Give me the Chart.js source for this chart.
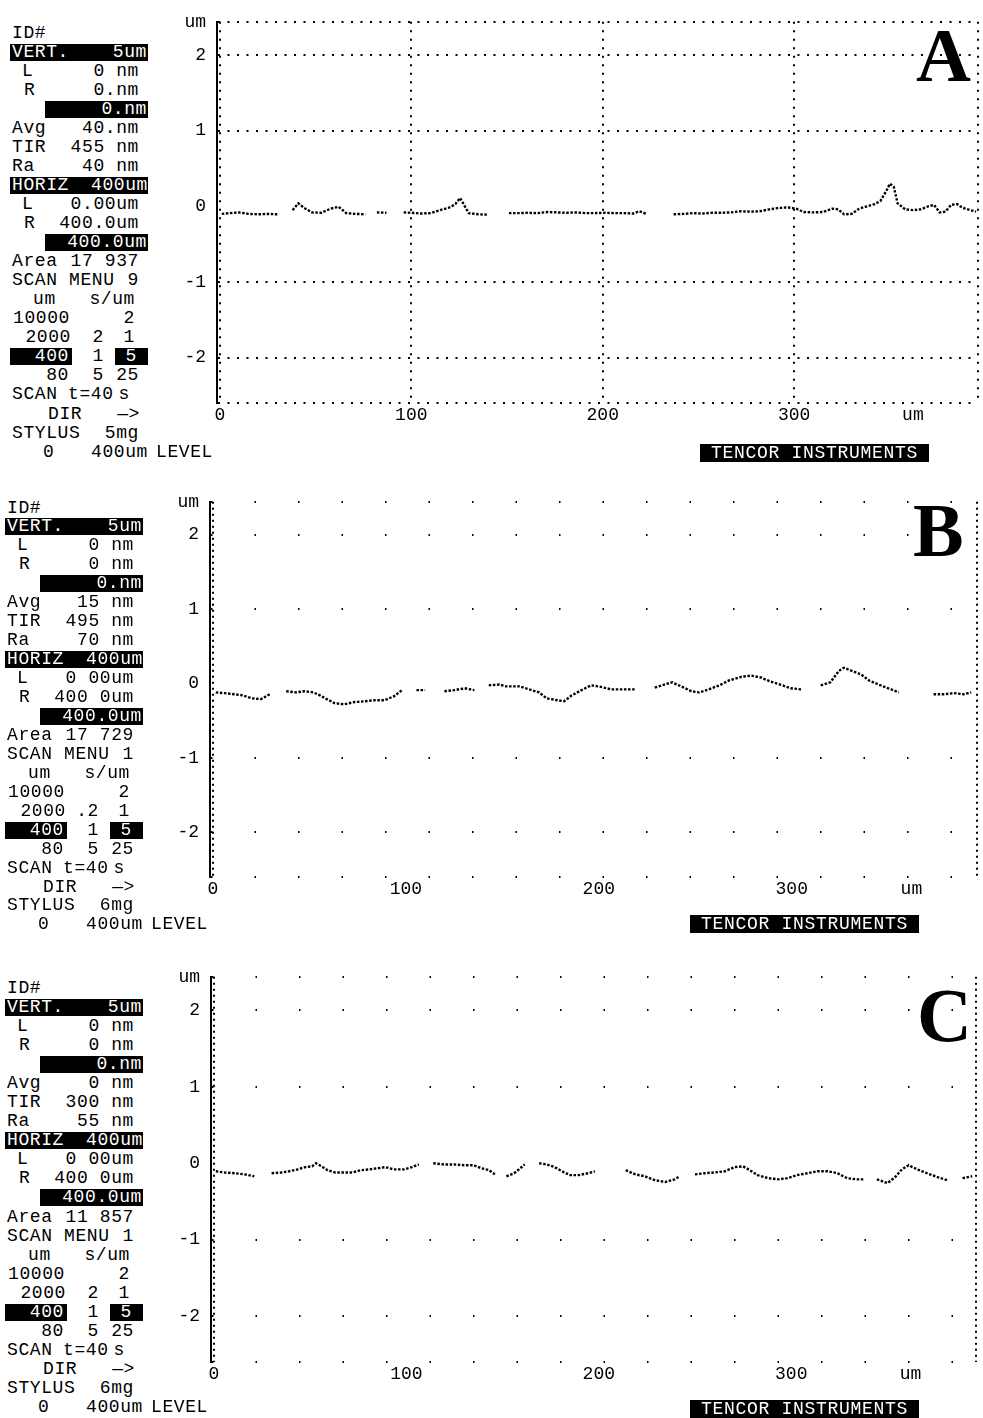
<!DOCTYPE html>
<html>
<head>
<meta charset="utf-8">
<title>Stylus profilometer scans A, B, C</title>
<script src="https://cdn.jsdelivr.net/npm/chart.js@4.4.1/dist/chart.umd.min.js"></script>
<style>
  html, body { margin: 0; padding: 0; background: #fff; }
  body { position: relative; width: 983px; height: 1418px; overflow: hidden;
         font-family: "Liberation Mono", "DejaVu Sans Mono", monospace; color: #000; }
  canvas { position: absolute; z-index: 1; }
  .t { position: absolute; z-index: 2; white-space: pre; font-size: 18px; line-height: 19px;
       height: 19px; letter-spacing: 0.6px; color: #000; }
  .t.inv { color: #fff; }
  .blk { position: absolute; z-index: 2; background: #000; height: 17px; }
  .tag { position: absolute; z-index: 2; background: #000; color: #fff; white-space: pre;
         font-size: 18px; line-height: 18px; height: 18px; text-align: center; letter-spacing: 0.7px; }
  .letter { position: absolute; z-index: 2; font-family: "Liberation Serif", "DejaVu Serif", serif;
            font-weight: bold; font-size: 76px; line-height: 1; }
</style>
</head>
<body>
<script>
// ---- axis ticks (um) ----
const xTickValues = [0, 100, 200, 300];
const yTickValues = [-2, -1, 0, 1, 2];
const X_MIN = -1.5, X_MAX = 396;     // scan window, um
const Y_MIN = -2.6, Y_MAX = 2.44;    // vertical window, um
const X_UNIT_AT = 362;               // where the "um" unit sits on the x axis

// ---- surface profiles: position (um) and height (um); null = pen gap ----
const profileA_x = [1,5,10,15,20,25,30,35,38,41,44,48,53,58,62,66,71,76,79,82,87,91,96,100,105,110,115,120,123,125.5,127.5,130,135,140,147,151,156,161,166,171,176,181,186,191,196,201,206,211,216,219,223,228,237,242,247,252,257,262,267,272,277,282,287,292,297,301,305,310,315,320,323,326,330,334,338,342,345,348,350,352,354,358,362,366,370,373,376,379,382,385,388,392,395];
const profileA_y = [-0.10,-0.09,-0.08,-0.10,-0.105,-0.10,-0.105,null,-0.05,0.04,-0.02,-0.08,-0.085,-0.03,-0.005,-0.09,-0.10,-0.105,null,-0.08,-0.085,null,-0.08,-0.085,-0.095,-0.09,-0.05,-0.015,0.03,0.11,0.02,-0.09,-0.105,-0.11,null,-0.09,-0.09,-0.085,-0.09,-0.075,-0.08,-0.085,-0.08,-0.09,-0.09,-0.085,-0.09,-0.09,-0.095,-0.065,-0.10,null,-0.105,-0.10,-0.09,-0.095,-0.085,-0.085,-0.08,-0.065,-0.07,-0.065,-0.04,-0.02,-0.015,-0.03,-0.075,-0.08,-0.075,-0.03,-0.04,-0.105,-0.10,-0.03,0.0,0.03,0.07,0.20,0.30,0.26,0.04,-0.04,-0.05,-0.04,0.0,0.02,-0.08,-0.07,0.02,0.03,-0.02,-0.05,-0.07];

const profileB_x = [1.5,6,11,15.5,20,25,29.5,34,38,43,47.5,52,55.5,59,63,68,73.5,78.5,84,89,94,98,100.5,105.5,110,114,120,125,130.5,135.5,139,143,148.5,152,159,164,169,173,178.5,182,186,191,196,200,206.5,213,219,224,229,234,238,244,248,252,257,262.5,267.5,274,279,284,289,294,299.5,305,311,315,320,324.5,327,332,336,340,345,350,355.5,365,373.5,379,384,389,393];
const profileB_y = [-0.12,-0.13,-0.145,-0.16,-0.2,-0.21,-0.145,null,-0.105,-0.12,-0.105,-0.12,-0.16,-0.21,-0.265,-0.28,-0.25,-0.24,-0.225,-0.225,-0.17,-0.09,null,-0.09,-0.09,null,-0.105,-0.09,-0.065,-0.09,null,-0.025,-0.015,-0.04,-0.04,-0.08,-0.12,-0.2,-0.225,-0.24,-0.16,-0.09,-0.025,-0.04,-0.08,-0.08,-0.08,null,-0.055,-0.015,0.015,-0.055,-0.105,-0.12,-0.08,-0.025,0.04,0.09,0.105,0.08,0.025,-0.015,-0.065,-0.08,null,-0.025,0.015,0.17,0.21,0.16,0.12,0.04,-0.015,-0.065,-0.12,null,-0.145,-0.145,-0.13,-0.145,-0.12];

const profileC_x = [1,5.5,11,16,21,25,30,35,39,43.5,47.5,51,53,56,59,63,68,72,76.5,81,85,89,93.5,99,103,106.5,111,114,119.5,125,130,135,139,143,146,149,152,156,158.5,161.5,165,169,173,177,181,185,189.5,194.5,198,202,205,208,214,219,224,229,234.5,239.5,242,246,250,255,260,265.5,270.5,275,278.5,282.5,288,293,298,303,308.5,313.5,319,324,329,334,337.5,341,344.5,350,354,357.5,361,365.5,370.5,376,381,385,389,394];
const profileC_y = [-0.105,-0.12,-0.13,-0.145,-0.17,null,-0.13,-0.12,-0.105,-0.08,-0.05,-0.04,0.0,-0.04,-0.09,-0.12,-0.12,-0.12,-0.09,-0.08,-0.065,-0.05,-0.08,-0.08,-0.05,-0.015,null,0.0,-0.015,-0.015,-0.025,-0.025,-0.065,-0.09,-0.145,null,-0.17,-0.13,-0.08,-0.015,null,0.0,-0.015,-0.05,-0.105,-0.155,-0.155,-0.13,-0.105,null,-0.065,null,-0.09,-0.145,-0.17,-0.22,-0.245,-0.21,-0.17,null,-0.145,-0.13,-0.12,-0.105,-0.05,-0.04,-0.09,-0.155,-0.195,-0.21,-0.195,-0.155,-0.13,-0.105,-0.105,-0.13,-0.195,-0.21,-0.21,null,-0.21,-0.26,-0.18,-0.08,-0.025,-0.08,-0.13,-0.18,-0.22,null,-0.195,-0.17];

// ---- instrument read-outs, one entry per scan ----
const scanNames     = ['A', 'B', 'C'];
const vertLValues   = ['0 nm', '0 nm', '0 nm'];
const vertRValues   = ['0.nm', '0 nm', '0 nm'];
const avgValues     = ['40.nm', '15 nm', '0 nm'];
const tirValues     = ['455 nm', '495 nm', '300 nm'];
const raValues      = ['40 nm', '70 nm', '55 nm'];
const horizLValues  = ['0.00um', '0 00um', '0 00um'];
const horizRValues  = ['400.0um', '400 0um', '400 0um'];
const areaValues    = ['17 937', '17 729', '11 857'];
const menuValues    = ['9', '1', '1'];
const rate2000      = ['2', '.2', '2'];
const stylusValues  = ['5mg', '6mg', '6mg'];

// ---- page geometry of the three printouts ----
const CANVAS_LEFT = 150, CANVAS_W = 833, X_AXIS_H = 22;
const MONO = '"Liberation Mono", "DejaVu Sans Mono", monospace';
const layouts = [
  { canvasTop: 0,   canvasH: 470, areaLeft: 217, areaTop: 19,  areaRight: 978, areaBottom: 403,
    textTop: 33,  pitch: 19.05, dx: 0,  tagLeft: 700, tagTop: 444,  letterLeft: 916, letterTop: 17,
    fullGrid: true,  xDash: [2, 6.5], yDash: [2, 7.5] },
  { canvasTop: 480, canvasH: 470, areaLeft: 210, areaTop: 497, areaRight: 977, areaBottom: 877,
    textTop: 508, pitch: 18.95, dx: -5, tagLeft: 690, tagTop: 915,  letterLeft: 913, letterTop: 492,
    fullGrid: false, xDash: [2, 4], yDash: [1.5, 42] },
  { canvasTop: 955, canvasH: 463, areaLeft: 211, areaTop: 974, areaRight: 976, areaBottom: 1362,
    textTop: 988, pitch: 19.09, dx: -5, tagLeft: 690, tagTop: 1400, letterLeft: 917, letterTop: 977,
    fullGrid: false, xDash: [2, 4], yDash: [1.5, 42] }
];
const profiles = [[profileA_x, profileA_y], [profileB_x, profileB_y], [profileC_x, profileC_y]];

function addText(txt, x, yc, align, inverse) {
  const d = document.createElement('div');
  d.className = 't' + (inverse ? ' inv' : '');
  d.textContent = txt;
  d.style.left = x + 'px';
  d.style.top = (yc - 9.5) + 'px';
  if (align === 'R') d.style.transform = 'translateX(-100%)';
  document.body.appendChild(d);
}
function addBlock(x1, x2, yc) {
  const b = document.createElement('div');
  b.className = 'blk';
  b.style.left = x1 + 'px';
  b.style.width = (x2 - x1) + 'px';
  b.style.top = (yc - 8.5) + 'px';
  document.body.appendChild(b);
}

function buildReadout(i, L) {
  const rows = [
    [['ID#', 12, 'L']],
    [['#', 10, 148], ['VERT.', 12, 'L', 1], ['5um', 147, 'R', 1]],
    [['L', 22, 'L'], [vertLValues[i], 139, 'R']],
    [['R', 24, 'L'], [vertRValues[i], 139, 'R']],
    [['#', 45, 148], ['0.nm', 147, 'R', 1]],
    [['Avg', 12, 'L'], [avgValues[i], 139, 'R']],
    [['TIR', 12, 'L'], [tirValues[i], 139, 'R']],
    [['Ra', 12, 'L'], [raValues[i], 139, 'R']],
    [['#', 10, 148], ['HORIZ', 12, 'L', 1], ['400um', 148, 'R', 1]],
    [['L', 22, 'L'], [horizLValues[i], 139, 'R']],
    [['R', 24, 'L'], [horizRValues[i], 139, 'R']],
    [['#', 45, 148], ['400.0um', 147, 'R', 1]],
    [['Area', 12, 'L'], [areaValues[i], 139, 'R']],
    [['SCAN MENU', 12, 'L'], [menuValues[i], 139, 'R']],
    [['um', 33, 'L'], ['s/um', 135, 'R']],
    [['10000', 13, 'L'], ['2', 135, 'R']],
    [['2000', 71, 'R'], [rate2000[i], 104, 'R'], ['1', 135, 'R']],
    [['#', 10, 72], ['400', 69, 'R', 1], ['1', 104, 'R'], ['#', 115, 148], ['5', 137, 'R', 1]],
    [['80', 69, 'R'], ['5', 104, 'R'], ['25', 139, 'R']],
    [['SCAN', 12, 'L'], ['t=40', 68, 'L'], ['s', 130, 'R']],
    [['DIR', 48, 'L'], ['\u2014>', 140, 'R']],
    [['STYLUS', 12, 'L'], [stylusValues[i], 139, 'R']],
    [['0', 43, 'L'], ['400um', 148, 'R'], ['LEVEL', 156, 'L']]
  ];
  rows.forEach((row, r) => {
    const yc = L.textTop + r * L.pitch;
    row.forEach(cell => {
      if (cell[0] === '#') addBlock(cell[1] + L.dx, cell[2] + L.dx, yc);
    });
    row.forEach(cell => {
      if (cell[0] !== '#') addText(cell[0], cell[1] + L.dx, yc, cell[2], cell[3]);
    });
  });
  const tag = document.createElement('div');
  tag.className = 'tag';
  tag.textContent = 'TENCOR INSTRUMENTS';
  tag.style.left = L.tagLeft + 'px';
  tag.style.top = L.tagTop + 'px';
  tag.style.width = '229px';
  document.body.appendChild(tag);
  const letter = document.createElement('div');
  letter.className = 'letter';
  letter.textContent = scanNames[i];
  letter.style.left = L.letterLeft + 'px';
  letter.style.top = L.letterTop + 'px';
  document.body.appendChild(letter);
}

function buildChart(i, L) {
  const cv = document.createElement('canvas');
  cv.width = CANVAS_W; cv.height = L.canvasH;
  cv.style.left = CANVAS_LEFT + 'px';
  cv.style.top = L.canvasTop + 'px';
  cv.style.width = CANVAS_W + 'px';
  cv.style.height = L.canvasH + 'px';
  document.body.appendChild(cv);

  const [xs, ys] = profiles[i];
  const tickFont = { family: MONO, size: 18 };

  new Chart(cv, {
    type: 'line',
    data: {
      datasets: [{
        data: xs.map((x, k) => ({ x: x, y: ys[k] })),
        borderColor: '#000',
        borderWidth: 2.4,
        borderDash: [2.5, 1.6],
        pointRadius: 0,
        spanGaps: false,
        tension: 0
      }]
    },
    options: {
      responsive: false,
      animation: false,
      events: [],
      plugins: { legend: { display: false }, tooltip: { enabled: false } },
      layout: {
        padding: {
          left: 0,
          top: L.areaTop - L.canvasTop,
          right: CANVAS_LEFT + CANVAS_W - L.areaRight,
          bottom: L.canvasTop + L.canvasH - L.areaBottom - X_AXIS_H
        }
      },
      scales: {
        x: {
          type: 'linear',
          min: X_MIN,
          max: X_MAX,
          afterBuildTicks: s => { s.ticks = [...xTickValues, X_UNIT_AT, X_MAX].map(v => ({ value: v })); },
          afterFit: s => { s.height = X_AXIS_H; },
          ticks: {
            autoSkip: false, maxRotation: 0, minRotation: 0, padding: 1,
            color: '#000', font: tickFont,
            callback: v => xTickValues.includes(v) ? String(v) : (v === X_UNIT_AT ? 'um' : '')
          },
          grid: {
            drawTicks: false,
            lineWidth: 2,
            color: c => {
              const v = c.tick ? c.tick.value : null;
              if (v === X_UNIT_AT) return 'rgba(0,0,0,0)';
              if (L.fullGrid) return '#000';
              return (v === 0 || v === X_MAX) ? '#000' : 'rgba(0,0,0,0)';
            }
          },
          border: { display: false, dash: L.xDash }
        },
        y: {
          type: 'linear',
          min: Y_MIN,
          max: Y_MAX,
          afterBuildTicks: s => { s.ticks = [Y_MIN, ...yTickValues, Y_MAX].map(v => ({ value: v })); },
          afterFit: s => { s.width = L.areaLeft - CANVAS_LEFT; },
          ticks: {
            autoSkip: false, padding: 11, color: '#000', font: tickFont,
            callback: v => v === Y_MAX ? 'um' : (yTickValues.includes(v) ? String(v) : '')
          },
          grid: {
            drawTicks: false,
            lineWidth: 2,
            color: c => (c.tick && c.tick.value === 0) ? 'rgba(0,0,0,0)' : '#000'
          },
          border: { display: true, color: '#000', width: 2, dash: L.yDash }
        }
      }
    }
  });
}

layouts.forEach((L, i) => { buildChart(i, L); buildReadout(i, L); });
</script>
</body>
</html>
